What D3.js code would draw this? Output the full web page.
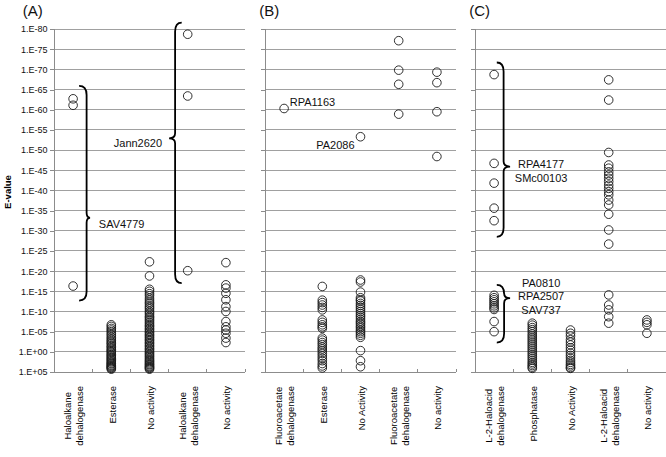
<!DOCTYPE html>
<html>
<head>
<meta charset="utf-8">
<script src="https://cdn.jsdelivr.net/npm/d3@7"></script>
<style>
  body { margin: 0; background: #fff; }
  svg { display: block; font-family: Arial, "Liberation Sans", sans-serif; }
</style>
</head>
<body>
<svg id="chart" width="666" height="457"></svg>
<script>
// values are -log10(E-value)
const panelNames = ["(A)", "(B)", "(C)"];

const catsA = ["Haloalkane\ndehalogenase", "Esterase", "No activity", "Haloalkane\ndehalogenase", "No activity"];
const catsB = ["Fluoroacetate\ndehalogenase", "Esterase", "No Activity", "Fluoroacetate\ndehalogenase", "No activity"];
const catsC = ["L-2-Haloacid\ndehalogenase", "Phosphatase", "No Activity", "L-2-Haloacid\ndehalogenase", "No activity"];

const valsA = [
  [62.7, 61.1, 16.3],
  [6.7, 6.3, 5.8, 5.4, 5.0, 4.5, 4.1, 3.6, 3.2, 2.8, 2.4, 2.1, 1.7, 1.3, 1.0, 0.6, 0.3, 0.0,
   -0.3, -0.7, -1.0, -1.3, -1.6, -1.9, -2.2, -2.5, -2.8, -3.0, -3.3, -3.5, -3.7, -3.9, -4.1, -4.3],
  [22.3, 18.8, 15.5, 15.0, 14.4, 13.9, 13.3, 12.8, 12.3, 11.9, 11.4, 11.0, 10.6, 10.1, 9.7, 9.3,
   8.8, 8.5, 8.1, 7.7, 7.3, 6.9, 6.5, 6.2, 5.8, 5.5, 5.1, 4.8, 4.4, 4.1, 3.7, 3.4, 3.0, 2.7,
   2.3, 2.0, 1.6, 1.3, 0.9, 0.6, 0.2, -0.1, -0.5, -0.8, -1.1, -1.5, -1.8, -2.1, -2.4, -2.7,
   -3.0, -3.2, -3.5, -3.7, -3.9, -4.1, -4.3],
  [78.7, 63.4, 20.1],
  [22.1, 16.6, 15.8, 14.5, 12.9, 11.2, 10.0, 7.5, 6.2, 5.4, 4.6, 3.4, 2.3]
];

const valsB = [
  [60.3],
  [16.2, 12.8, 12.2, 11.6, 11.0, 10.4, 7.9, 7.3, 6.7, 6.2, 5.8, 3.4, 2.9, 2.3, 1.8, 1.2,
   0.7, 0.2, -0.4, -1.0, -1.6, -2.2, -2.9, -3.5, -4.0],
  [53.3, 17.8, 17.3, 14.8, 13.4, 12.9, 12.6, 12.0, 11.5, 11.0, 10.5, 10.0, 9.5, 9.0, 8.6,
   8.1, 7.6, 7.2, 6.8, 6.3, 5.9, 5.4, 5.0, 4.6, 4.1, 3.6, 0.3, -2.2, -3.7],
  [77.1, 69.8, 66.3, 58.9],
  [69.3, 66.7, 59.5, 48.4]
];

const valsC = [
  [68.7, 46.7, 41.8, 35.6, 32.5, 14.0, 13.4, 12.9, 12.4, 11.9, 11.4, 10.9, 10.5, 7.5, 5.0],
  [7.1, 6.6, 6.0, 5.5, 5.0, 4.4, 3.9, 3.4, 2.9, 2.4, 1.9, 1.4, 0.9, 0.4, -0.1, -0.6, -1.1,
   -1.6, -2.1, -2.6, -3.0, -3.4, -3.8, -4.1],
  [5.4, 4.6, 3.9, 3.0, 2.4, 1.7, 1.0, 0.4, -0.3, -0.9, -1.5, -2.1, -2.6, -3.1, -3.5, -3.9, -4.1],
  [67.4, 62.4, 49.4, 46.3, 45.5, 44.6, 43.8, 43.0, 42.2, 41.3, 40.5, 39.7, 38.9, 37.6, 36.4,
   34.1, 30.2, 26.7, 14.1, 11.6, 10.4, 8.7, 7.1],
  [7.9, 7.3, 6.7, 4.6]
];

const tickVals = [80, 75, 70, 65, 60, 55, 50, 45, 40, 35, 30, 25, 20, 15, 10, 5, 0, -5];
const tickLabels = ["1.E-80", "1.E-75", "1.E-70", "1.E-65", "1.E-60", "1.E-55", "1.E-50", "1.E-45",
  "1.E-40", "1.E-35", "1.E-30", "1.E-25", "1.E-20", "1.E-15", "1.E-10", "1.E-05", "1.E+00", "1.E+05"];

// braces: panel, category, span (top, tip, bottom) in -log10 units, labels
const braces = [
  { panel: 0, cat: 0, dir: 1, top: 65.9, tip: 33.2, bot: 12.7, hook: 6, line: 13.5, point: 17,
    labels: ["SAV4779"], anchor: "start", dx: 8.7, dy: [10] },
  { panel: 0, cat: 3, dir: -1, top: 81.6, tip: 52.9, bot: 17.0, hook: 6, line: 12.6, point: 18.6,
    labels: ["Jann2620"], anchor: "end", dx: -7, dy: [8.7] },
  { panel: 2, cat: 0, dir: 1, top: 71.7, tip: 45.9, bot: 28.5, hook: 2.7, line: 9.5, point: 16,
    labels: ["RPA4177", "SMc00103"], anchor: "middle", dx: 31, dy: [1.6, 15.6] },
  { panel: 2, cat: 0, dir: 1, top: 16.6, tip: 13.3, bot: 2.3, hook: 2.7, line: 10, point: 16,
    labels: ["PA0810", "RPA2507", "SAV737"], anchor: "middle", dx: 31, dy: [-11, 1.7, 15.7] }
];

// labels next to single points
const pointNotes = [
  { panel: 1, cat: 0, value: 60.3, text: "RPA1163", anchor: "start", dx: 5.6, dy: -2.7 },
  { panel: 1, cat: 2, value: 53.3, text: "PA2086", anchor: "end", dx: -6, dy: 12.3 }
];

const panels = [
  { cats: catsA, vals: valsA, x0: 54, x1: 245 },
  { cats: catsB, vals: valsB, x0: 265, x1: 456 },
  { cats: catsC, vals: valsC, x0: 475, x1: 666 }
];

const svg = d3.select("#chart");
const plotTop = 29, plotBottom = 372;
const gridColor = "#a0a0a0", axisColor = "#8c8c8c";

const y = d3.scaleLinear().domain([-5, 80]).range([plotBottom, plotTop]);

const xs = panels.map(p => d3.scaleBand()
  .domain(d3.range(p.cats.length))
  .range([p.x0, p.x1])
  .padding(0));

panels.forEach((p, pi) => {
  const x = xs[pi];
  const g = svg.append("g");

  // gridlines
  g.selectAll(".grid")
    .data(tickVals.filter(v => v > -5))
    .enter().append("line")
    .attr("x1", p.x0).attr("x2", p.x1)
    .attr("y1", d => y(d)).attr("y2", d => y(d))
    .attr("stroke", gridColor)
    .attr("shape-rendering", "crispEdges");

  // y axis
  const yAxis = d3.axisLeft(y).tickValues(tickVals).tickSize(4)
    .tickFormat((d, i) => pi === 0 ? tickLabels[i] : "");
  const ya = g.append("g").attr("transform", "translate(" + p.x0 + ",0)").call(yAxis);
  ya.select(".domain").attr("stroke", axisColor).attr("shape-rendering", "crispEdges");
  ya.selectAll(".tick line").attr("stroke", axisColor).attr("shape-rendering", "crispEdges");
  ya.selectAll(".tick text")
    .attr("x", -6.5)
    .style("font-size", "9px")
    .style("font-family", "Arial, 'Liberation Sans', sans-serif")
    .attr("fill", "#111");

  // x axis line + inner ticks between categories
  g.append("line")
    .attr("x1", p.x0).attr("x2", p.x1)
    .attr("y1", plotBottom).attr("y2", plotBottom)
    .attr("stroke", axisColor).attr("shape-rendering", "crispEdges");
  g.selectAll(".xtick")
    .data(d3.range(1, p.cats.length + 1))
    .enter().append("line")
    .attr("x1", d => x(d - 1) + x.bandwidth()).attr("x2", d => x(d - 1) + x.bandwidth())
    .attr("y1", plotBottom).attr("y2", plotBottom - 3)
    .attr("stroke", axisColor).attr("shape-rendering", "crispEdges");

  // category labels, rotated
  p.cats.forEach((c, ci) => {
    const lines = c.split("\n");
    const cx = x(ci) + x.bandwidth() / 2;
    const texts = lines.map((ln, li) => {
      const off = lines.length === 1 ? 0 : (li === 0 ? -6 : 6);
      return g.append("text")
        .attr("font-size", 9.5)
        .attr("fill", "#000")
        .attr("text-anchor", "middle")
        .attr("data-x", cx + 4.3 + off)
        .text(ln);
    });
    const maxL = d3.max(texts, t => t.node().getComputedTextLength());
    texts.forEach(t => {
      t.attr("transform", "translate(" + t.attr("data-x") + "," + (386 + maxL / 2) + ") rotate(-90)");
    });
  });

  // points
  p.vals.forEach((arr, ci) => {
    g.selectAll(null)
      .data(arr)
      .enter().append("circle")
      .attr("cx", x(ci) + x.bandwidth() / 2)
      .attr("cy", d => y(d))
      .attr("r", 4.3)
      .attr("fill", "none")
      .attr("stroke", "#1a1a1a")
      .attr("stroke-width", 0.9);
  });

  // panel title
  svg.append("text")
    .attr("x", p.x0 - (pi === 0 ? 31.3 : 5.7))
    .attr("y", 16)
    .attr("font-size", 15)
    .attr("fill", "#111")
    .text(panelNames[pi]);
});

// y axis title
svg.append("text")
  .attr("transform", "translate(11,192) rotate(-90)")
  .attr("text-anchor", "middle")
  .attr("font-size", 9.5)
  .attr("font-weight", "bold")
  .attr("fill", "#000")
  .text("E-value");

// braces
braces.forEach(b => {
  const x = xs[b.panel];
  const cx = x(b.cat) + x.bandwidth() / 2;
  const xh = cx + b.dir * b.hook, xv = cx + b.dir * b.line, xt = cx + b.dir * b.point;
  const yT = y(b.top), yM = y(b.tip), yB = y(b.bot);
  const r = 9, rt = 5;
  const path = d3.path();
  path.moveTo(xh, yT);
  path.quadraticCurveTo(xv, yT, xv, yT + r);
  path.lineTo(xv, yM - rt);
  path.quadraticCurveTo(xv, yM, xt, yM);
  path.quadraticCurveTo(xv, yM, xv, yM + rt);
  path.lineTo(xv, yB - r);
  path.quadraticCurveTo(xv, yB, xh, yB);
  svg.append("path")
    .attr("d", path.toString())
    .attr("fill", "none")
    .attr("stroke", "#000")
    .attr("stroke-width", 1.8);

  b.labels.forEach((t, i) => {
    svg.append("text")
      .attr("x", xt + b.dx)
      .attr("y", yM + b.dy[i])
      .attr("text-anchor", b.anchor)
      .attr("font-size", 11)
      .attr("fill", "#111")
      .text(t);
  });
});

pointNotes.forEach(n => {
  const x = xs[n.panel];
  svg.append("text")
    .attr("x", x(n.cat) + x.bandwidth() / 2 + n.dx)
    .attr("y", y(n.value) + n.dy)
    .attr("text-anchor", n.anchor)
    .attr("font-size", 11)
    .attr("fill", "#111")
    .text(n.text);
});
</script>
</body>
</html>
